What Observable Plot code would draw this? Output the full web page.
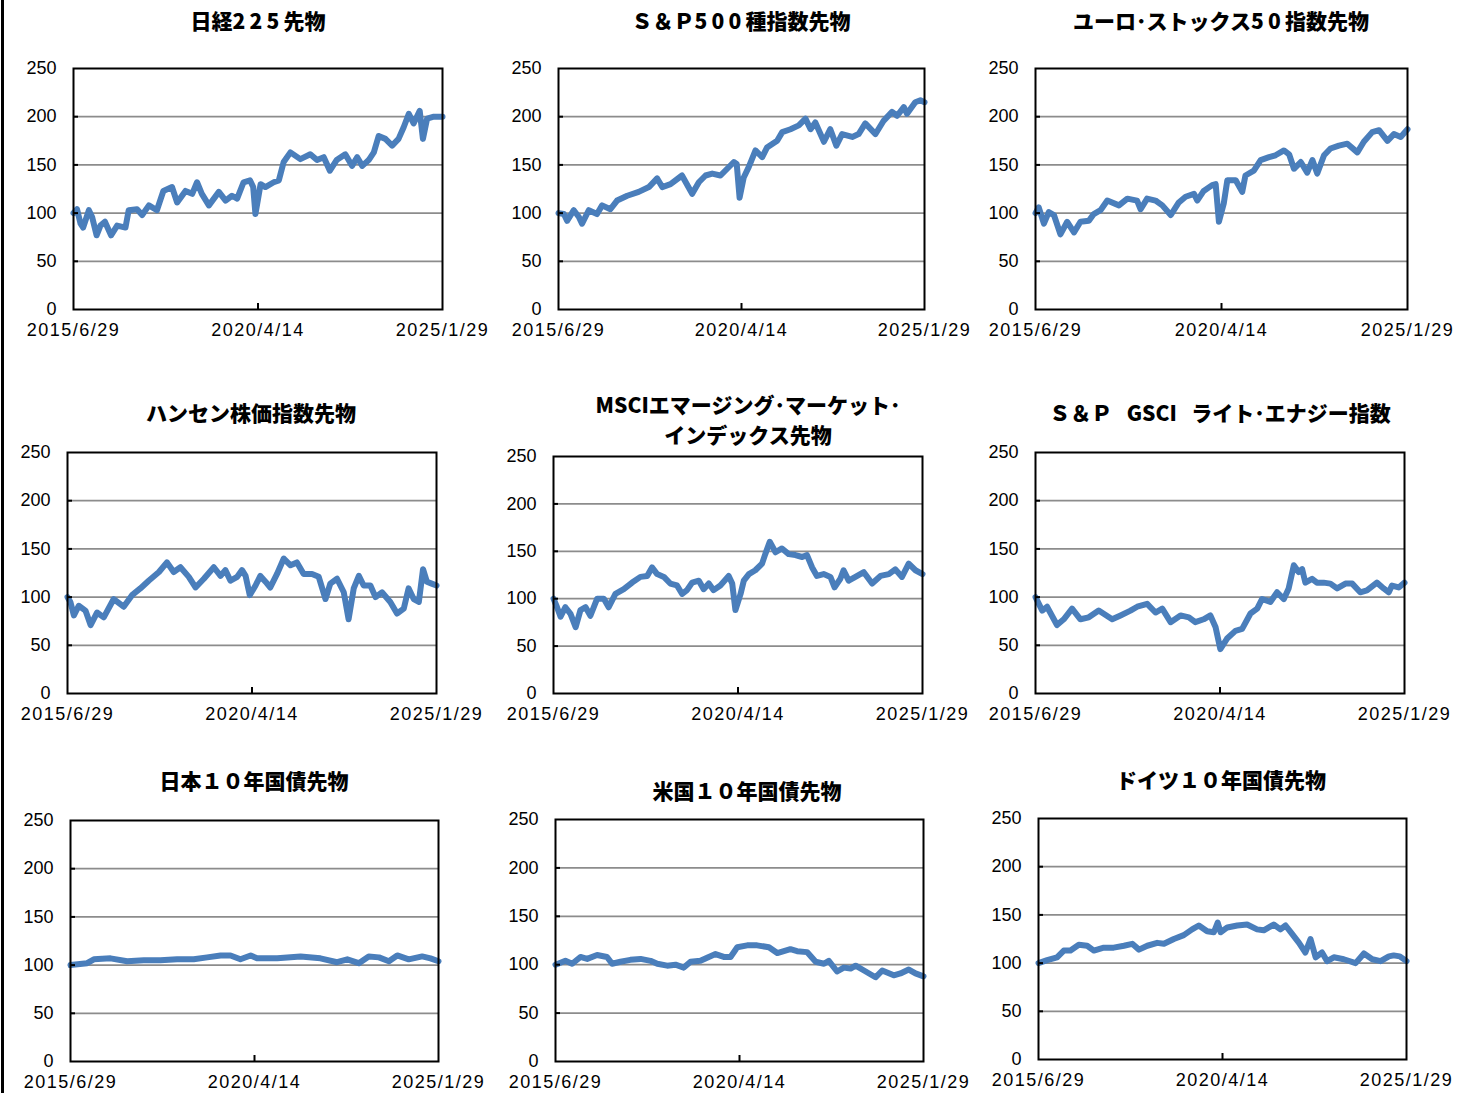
<!DOCTYPE html>
<html><head><meta charset="utf-8">
<script src="https://cdn.jsdelivr.net/npm/d3@7"></script>
<script src="https://cdn.jsdelivr.net/npm/@observablehq/plot@0.6"></script>
<style>
body{margin:0;background:#fff;}
#root{position:relative;width:1470px;height:1093px;overflow:hidden;background:#fff;}
#edge{position:absolute;left:1px;top:0;width:3px;height:1093px;background:#000;}
.title{position:absolute;font-family:"Noto Sans CJK JP",sans-serif;font-weight:900;font-size:21px;line-height:30px;text-align:center;white-space:pre;color:#000;transform:translateX(-50%);}
.title .dg{letter-spacing:0.2em;}
.panel{position:absolute;}
.panel svg{max-width:none;overflow:visible;}
g[aria-label="x-axis tick label"] text{letter-spacing:1.5px;}
</style></head><body><div id="root"><div id="edge"></div></div>
<script>
// ---- axis labels ----
const xTickLabels = ["2015/6/29", "2020/4/14", "2025/1/29"];
const yTicks = [0, 50, 100, 150, 200, 250];
const totalMonths = 115; // months from first to last x label

const titles = [
  ["日経225先物"],
  ["Ｓ＆Ｐ500種指数先物"],
  ["ユーロ･ストックス50指数先物"],
  ["ハンセン株価指数先物"],
  ["MSCIエマージング･マーケット･", "インデックス先物"],
  ["Ｓ＆Ｐ   GSCI   ライト･エナジー指数"],
  ["日本１０年国債先物"],
  ["米国１０年国債先物"],
  ["ドイツ１０年国債先物"]
];

// ---- series: [months since 2015/6/29, index value] ----
const nikkei = [[0,100],[1.1,104],[2.2,89],[3,85],[4.8,103],[5.8,96],[7.2,77],[8.4,87],[9.8,91],[11.7,77],[13.6,87],[16.2,85],[17.2,103],[19.8,104],[21.4,98],[23.5,108],[26,103],[28,123],[30.7,127],[32.3,111],[34.9,123],[37,120],[38.5,132],[40,120],[42.2,108],[45.3,122],[47.4,113],[49.4,118],[51,115],[53,132],[55,134],[56,127],[56.7,99],[58.3,130],[59.8,127],[62.4,132],[64,134],[65.5,153],[67.6,163],[70.7,156],[73.8,161],[75.9,155],[78,158],[79.9,144],[82,155],[84.7,161],[86.8,149],[88.4,158],[90,149],[92,155],[93.6,163],[95.1,180],[97.2,177],[99.3,170],[101.3,177],[102.9,189],[104.5,203],[106,193],[107.9,206],[108.9,177],[110.2,198],[112.3,200],[115,200]];
const sp500 = [[0,100],[1.7,99],[2.7,92],[4.8,103],[6.4,96],[7.4,89],[9.5,103],[12.1,99],[13.7,108],[16.3,104],[18.4,113],[21.6,118],[25.2,122],[28.4,127],[31,136],[32.6,127],[35.2,130],[38.8,139],[42,120],[44.1,132],[46.2,139],[48.3,141],[50.9,139],[53,146],[55.1,153],[56,151],[56.9,116],[58.2,137],[59.8,148],[61.9,165],[64,158],[65.5,168],[68.7,175],[70.3,184],[72.9,187],[75.5,191],[77.6,198],[79.2,187],[80.7,194],[83.4,174],[85.4,187],[87.3,170],[89.1,182],[92.3,179],[94.3,182],[96.4,193],[99.6,182],[102.2,196],[104.8,205],[106.4,201],[108.5,210],[109.5,203],[112.1,215],[113.7,217],[115,215]];
const eurostoxx = [[0,100],[1,106],[2.6,89],[4.1,101],[5.7,98],[7.7,78],[9.8,91],[11.9,80],[13.9,91],[16.5,92],[18,99],[20.1,103],[22.2,113],[25.8,108],[28.4,115],[31.4,113],[32.5,104],[34.5,115],[37.1,113],[39.2,108],[41.8,98],[44.3,111],[46.4,117],[49,120],[50,113],[52,123],[54.6,129],[55.7,130],[56.7,91],[58.2,110],[59.3,134],[61.9,134],[63.9,122],[64.9,139],[67.5,144],[69.6,155],[72.2,158],[74.2,160],[76.8,165],[78.4,161],[79.9,146],[82,153],[84,142],[85.6,155],[87.1,141],[89.2,160],[91.2,167],[93.8,170],[96.4,172],[99.5,163],[101.5,174],[104.1,184],[106.2,186],[108.8,175],[110.8,182],[112.9,179],[115,187]];
const hangseng = [[0,100],[0.9,95],[2,81],[3.5,91],[5.6,86],[7.2,71],[9.2,84],[11.3,79],[14.4,98],[17.5,90],[20.1,102],[22.7,109],[25.3,117],[28.5,126],[31,136],[33.1,126],[35.2,131],[37.8,121],[39.9,110],[42.5,119],[45.6,131],[47.7,122],[49.2,128],[50.8,117],[52.9,121],[54.4,128],[55.5,122],[56.8,102],[58.6,112],[60.1,122],[61.7,116],[63.2,110],[65.3,124],[67.4,140],[69.5,133],[71.5,136],[73.6,124],[76.2,124],[78.3,121],[80.4,98],[81.9,114],[84,119],[86.1,105],[87.6,77],[89.2,109],[90.8,122],[92.3,112],[94.4,112],[96,100],[98,105],[100.6,95],[102.7,83],[104.8,88],[106.3,109],[107.9,98],[109.5,95],[110.8,129],[112,116],[113.5,114],[115,112]];
const msciEm = [[0,100],[1.1,91],[2.2,81],[3.7,91],[5.3,84],[6.9,70],[8.4,88],[10,91],[11.5,82],[13.6,100],[15.7,100],[17.2,91],[19.3,105],[21.9,110],[24.5,117],[27.1,123],[29.2,124],[30.7,133],[32.3,126],[34.4,123],[36.4,116],[38.5,114],[40.1,105],[41.6,109],[43.2,117],[45.3,119],[46.8,110],[48.4,116],[49.9,109],[52,114],[54.6,124],[55.7,116],[56.7,88],[58.3,105],[59.3,119],[60.9,126],[62.9,130],[65,137],[66,147],[67.4,160],[69.2,149],[71.2,153],[73.3,147],[75.4,146],[77.5,144],[79,146],[80.6,133],[82.1,124],[84.2,126],[86.3,123],[87.6,112],[89.4,121],[90.4,130],[92,119],[94.1,123],[96.7,128],[99.3,116],[101.9,124],[104.5,126],[106.5,131],[108.6,123],[110.7,137],[112.8,130],[115,126]];
const gsciEnergy = [[0,100],[2.1,86],[3.6,90],[6.7,71],[8.8,77],[11.4,88],[14,77],[16.6,79],[19.7,86],[23.9,77],[26.5,81],[29.6,86],[31.7,90],[34.8,93],[37.4,84],[39.5,88],[42.1,74],[45.2,81],[47.8,79],[49.8,74],[52.4,77],[54.5,81],[56.1,69],[57.6,46],[59.7,57],[62.3,65],[64.4,67],[67,83],[69.1,88],[70.6,98],[73.2,95],[75.3,105],[77.4,98],[78.9,109],[80.5,133],[82,126],[83.1,129],[84.1,115],[86.2,119],[87.7,115],[89.8,115],[91.9,114],[94,109],[96.6,114],[98.7,114],[101.2,105],[103.3,107],[106.4,115],[108.5,109],[110.1,105],[111.1,112],[113.2,110],[115,115]];
const jgb10 = [[0,100],[5.2,102],[7.3,106],[12.5,107],[17.7,104],[22.9,105],[28.1,105],[33.3,106],[38.5,106],[42.7,108],[46.9,110],[50,110],[53.1,106],[56.3,110],[58.3,107],[64.6,107],[71.9,109],[78.1,107],[83.3,103],[86.5,106],[90.1,102],[93.2,109],[96.4,108],[99.5,104],[102.1,110],[105.7,106],[109.9,109],[112.5,107],[115,104]];
const ust10 = [[0,100],[3.1,104],[5.2,101],[7.8,108],[9.9,106],[13,110],[16.1,108],[17.7,101],[20.3,103],[23.4,105],[26.6,106],[29.7,104],[31.8,101],[34.9,99],[37.5,100],[40.1,97],[42.2,103],[45.3,104],[47.9,108],[50,111],[52.6,108],[54.7,108],[56.8,118],[59.9,120],[63,120],[66.7,118],[69.3,112],[73.4,116],[75.5,114],[78.6,113],[81.3,103],[83.9,101],[85.4,104],[88,93],[90.1,97],[92.2,96],[93.8,99],[96.4,94],[100,87],[102.1,94],[105.7,89],[107.8,91],[110.4,95],[112.5,91],[115,88]];
const bund10 = [[0,100],[2.7,103],[5.8,106],[7.9,113],[10,113],[12.6,119],[15.2,118],[17.3,113],[20.4,116],[23.5,116],[26.7,118],[29.3,120],[31.4,114],[34,118],[37.1,121],[39.2,120],[42.3,125],[45.4,129],[48,135],[50.1,139],[52.7,133],[54.8,132],[56,142],[56.9,132],[59,137],[62.1,139],[65.2,140],[68.3,135],[70.4,134],[73.5,140],[75.6,135],[77.2,139],[79.3,130],[81.4,121],[83.4,111],[85,125],[86.6,106],[88.6,111],[90.2,102],[92.3,106],[95.4,104],[99.1,100],[101.7,110],[104.3,104],[106.9,102],[109.5,107],[111,108],[112.9,107],[115,102]];

const seriesList = [nikkei, sp500, eurostoxx, hangseng, msciEm, gsciEnergy, jgb10, ust10, bund10];

// ---- layout (plot frame edges in page pixels, title centers) ----
const frames = [
  [73,68,442,309],[558,68,924,309],[1035,68,1407,309],
  [67,452,436,693],[553,456,922,693],[1035,452,1404,693],
  [70,820,438,1061],[555,819,923,1061],[1038,818,1406,1059]
];
const titleCenters = [
  [258,20],[741,20],[1221,20],
  [251,412],[748,419],[1220,412],
  [254,780],[747,790],[1221,779]
];

const parseLabel = s => { const [y,m,d] = s.split("/").map(Number); return new Date(Date.UTC(y, m-1, d)); };
const xTickDates = xTickLabels.map(parseLabel);
const labelOf = new Map(xTickDates.map((d,i) => [+d, xTickLabels[i]]));
const t0 = xTickDates[0], t1 = xTickDates[2];
const toDate = m => new Date(+t0 + (m / totalMonths) * (t1 - t0));

const ML = 62, MR = 58, MT = 14, MB = 46;
const root = document.getElementById("root");

function makePanel(series, w, h) {
  const rows = series.map(([m, v]) => ({date: toDate(m), value: v}));
  return Plot.plot({
    width: w + ML + MR, height: h + MT + MB,
    marginLeft: ML, marginRight: MR, marginTop: MT, marginBottom: MB,
    x: {type: "utc", domain: [t0, t1], label: null},
    y: {domain: [0, 250], label: null},
    style: {fontFamily: "'Liberation Sans', Arial, sans-serif", fontSize: "18px", color: "#000", background: "transparent", overflow: "visible"},
    marks: [
      Plot.gridY(yTicks.slice(1, -1), {stroke: "#8c8c8c", strokeOpacity: 1, strokeWidth: 1.8}),
      Plot.line(rows, {x: "date", y: "value", stroke: "#4a7ebb", strokeWidth: 6, strokeLinejoin: "round", strokeLinecap: "round"}),
      Plot.frame({stroke: "#000", strokeWidth: 2}),
      Plot.axisY(yTicks, {tickSize: 0, tickPadding: 17, fill: "#000", label: null}),
      Plot.axisY(yTicks.slice(1, -1), {tickSize: -5, tickFormat: () => "", stroke: "#000", strokeWidth: 2, label: null}),
      Plot.axisX(xTickDates, {tickSize: 0, tickPadding: 14, tickFormat: d => labelOf.get(+d), fill: "#000", label: null}),
      Plot.axisX(xTickDates.slice(1, 2), {tickSize: -6, tickFormat: () => "", stroke: "#000", strokeWidth: 2, label: null})
    ]
  });
}

function fillTitle(el, text) {
  // digits get a little extra spacing, like the proportional bold digits of the original
  const parts = text.split(/([0-9]+)/);
  parts.forEach(p => {
    if (!p) return;
    if (/^[0-9]+$/.test(p)) {
      const s = document.createElement("span");
      s.className = "dg";
      s.textContent = p;
      el.append(s);
    } else {
      el.append(document.createTextNode(p));
    }
  });
}

frames.forEach(([l, t, r, b], i) => {
  const w = r - l, h = b - t;
  const div = document.createElement("div");
  div.className = "panel";
  div.style.left = (l - ML) + "px";
  div.style.top = (t - MT) + "px";
  div.style.width = (w + ML + MR) + "px";
  div.append(makePanel(seriesList[i], w, h));
  root.append(div);

  const lines = titles[i];
  const tdiv = document.createElement("div");
  tdiv.className = "title";
  lines.forEach((ln, k) => {
    if (k > 0) tdiv.append(document.createTextNode("\n"));
    fillTitle(tdiv, ln);
  });
  const [cx, cy] = titleCenters[i];
  tdiv.style.left = cx + "px";
  tdiv.style.top = (cy - 15 * lines.length) + "px";
  root.append(tdiv);
});
</script>
</body></html>
